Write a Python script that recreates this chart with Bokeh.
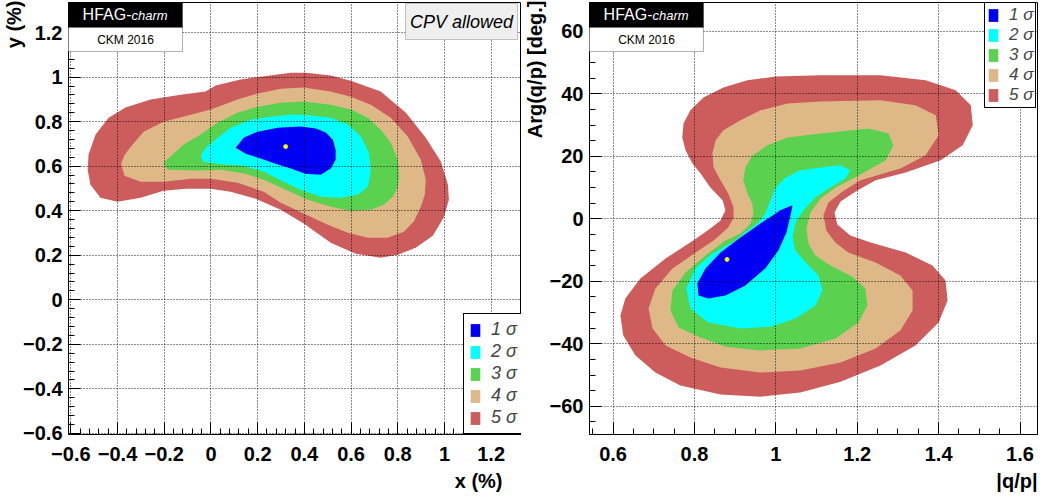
import math
from bokeh.plotting import figure
from bokeh.models import (Range1d, SingleIntervalTicker, CustomJSTickFormatter, Label,
                          BoxAnnotation, Legend, LegendItem, Title)
from bokeh.layouts import row
from bokeh.embed import file_html
from bokeh.resources import INLINE

# ---------------- data ----------------
LEVEL_LABELS = ["1 σ", "2 σ", "3 σ", "4 σ", "5 σ"]
LEVEL_COLORS = ["#0000f5", "#00ffff", "#5ad250", "#deb887", "#cd5c5c"]

# Left panel: x (%) vs y (%) contours (outer boundary of each region)
XY_5S_X = [-0.524, -0.494, -0.438, -0.366, -0.258, -0.130, -0.023, 0.020, 0.127, 0.213, 0.342, 0.406,
           0.513, 0.599, 0.727, 0.835, 0.920, 0.985, 1.015, 1.019, 0.997, 0.950, 0.877, 0.800, 0.727,
           0.620, 0.513, 0.397, 0.299, 0.192, 0.084, -0.001, -0.108, -0.203, -0.301, -0.400, -0.473,
           -0.516, -0.528]
XY_5S_Y = [0.652, 0.742, 0.818, 0.863, 0.899, 0.921, 0.935, 0.962, 0.989, 1.002, 1.020, 1.020,
           1.007, 0.984, 0.935, 0.840, 0.728, 0.620, 0.517, 0.449, 0.369, 0.288, 0.234, 0.202, 0.189,
           0.207, 0.256, 0.342, 0.404, 0.454, 0.485, 0.499, 0.499, 0.490, 0.458, 0.440, 0.458,
           0.517, 0.584]
XY_4S_X = [-0.385, -0.370, -0.340, -0.288, -0.203, -0.087, -0.001, 0.114, 0.200, 0.299, 0.397, 0.513,
           0.599, 0.685, 0.770, 0.843, 0.899, 0.920, 0.916, 0.899, 0.869, 0.826, 0.757, 0.672, 0.586,
           0.500, 0.397, 0.299, 0.226, 0.114, -0.001, -0.087, -0.203, -0.301, -0.370]
XY_4S_Y = [0.610, 0.650, 0.692, 0.755, 0.800, 0.831, 0.854, 0.899, 0.926, 0.948, 0.953, 0.935,
           0.912, 0.876, 0.818, 0.733, 0.629, 0.539, 0.472, 0.418, 0.351, 0.306, 0.279, 0.279, 0.301,
           0.337, 0.387, 0.436, 0.485, 0.526, 0.544, 0.544, 0.530, 0.530, 0.557]
XY_3S_X = [-0.203, -0.173, -0.117, -0.044, 0.029, 0.114, 0.200, 0.299, 0.397, 0.513, 0.599, 0.672,
           0.727, 0.770, 0.800, 0.805, 0.800, 0.779, 0.740, 0.685, 0.599, 0.513, 0.414, 0.320, 0.235,
           0.149, 0.042, -0.066, -0.186]
XY_3S_Y = [0.616, 0.643, 0.697, 0.742, 0.796, 0.840, 0.867, 0.885, 0.890, 0.876, 0.854, 0.818,
           0.764, 0.706, 0.629, 0.553, 0.503, 0.463, 0.427, 0.404, 0.400, 0.418, 0.449, 0.494, 0.535,
           0.566, 0.584, 0.580, 0.584]
XY_2S_X = [-0.044, -0.023, 0.029, 0.084, 0.170, 0.256, 0.342, 0.397, 0.513, 0.586, 0.642, 0.676,
           0.685, 0.672, 0.629, 0.556, 0.470, 0.384, 0.320, 0.226, 0.140, 0.054, -0.031]
XY_2S_Y = [0.643, 0.683, 0.728, 0.773, 0.809, 0.822, 0.831, 0.831, 0.818, 0.787, 0.733, 0.661,
           0.584, 0.508, 0.472, 0.458, 0.463, 0.494, 0.526, 0.575, 0.602, 0.607, 0.620]
XY_1S_X = [0.106, 0.140, 0.200, 0.286, 0.384, 0.449, 0.492, 0.522, 0.534, 0.534, 0.513, 0.470,
           0.405, 0.342, 0.277, 0.213, 0.149]
XY_1S_Y = [0.683, 0.728, 0.755, 0.773, 0.778, 0.769, 0.751, 0.719, 0.674, 0.629, 0.589, 0.562,
           0.566, 0.589, 0.611, 0.634, 0.656]
XY_BEST_X = [0.32]
XY_BEST_Y = [0.688]

# Right panel: |q/p| vs Arg(q/p) [deg.]
QP_5S_X = [1.257, 1.110, 0.999, 0.930, 0.871, 0.822, 0.790, 0.773, 0.770, 0.778, 0.795, 0.815,
           0.839, 0.869, 0.876, 0.864, 0.839, 0.797, 0.729, 0.667, 0.630, 0.618, 0.625, 0.655,
           0.704, 0.765, 0.864, 0.962, 1.060, 1.159, 1.257, 1.343, 1.400, 1.422, 1.417, 1.385,
           1.319, 1.233, 1.183, 1.151, 1.144, 1.159, 1.196, 1.245, 1.319, 1.405, 1.459, 1.484,
           1.479, 1.442, 1.368]
QP_5S_Y = [45.9, 45.9, 45.5, 44.3, 42.0, 38.8, 34.7, 30.5, 26.0, 21.9, 17.7, 14.5,
           10.0, 5.9, 2.7, -0.5, -3.1, -6.9, -12.7, -19.1, -25.5, -30.9, -37.3, -43.7,
           -49.2, -53.3, -56.2, -56.9, -55.6, -52.1, -46.9, -40.5, -33.2, -26.1, -19.7, -14.9,
           -10.8, -7.6, -5.3, -1.8, 2.0, 5.5, 8.7, 12.3, 14.8, 18.7, 23.5, 29.9,
           36.3, 41.1, 44.3]
QP_4S_X = [1.257, 1.110, 1.029, 0.962, 0.913, 0.871, 0.852, 0.844, 0.847, 0.864, 0.883, 0.896,
           0.896, 0.883, 0.847, 0.803, 0.746, 0.704, 0.687, 0.697, 0.729, 0.790, 0.864, 0.962,
           1.060, 1.159, 1.245, 1.306, 1.336, 1.336, 1.306, 1.245, 1.178, 1.146, 1.124, 1.117,
           1.129, 1.164, 1.208, 1.306, 1.368, 1.400, 1.393, 1.343]
QP_4S_Y = [37.9, 37.5, 36.9, 34.7, 31.5, 28.3, 25.1, 20.9, 16.4, 12.3, 8.1, 3.6,
           0.4, -2.8, -6.9, -10.8, -15.9, -22.3, -28.7, -35.1, -40.5, -44.4, -47.6, -49.2,
           -48.5, -46.0, -41.5, -35.7, -29.3, -22.9, -18.1, -14.0, -10.8, -7.6, -3.7, 1.1,
           5.2, 8.7, 12.3, 16.1, 20.3, 26.7, 33.1, 36.3]
QP_3S_X = [1.228, 1.110, 1.029, 0.979, 0.942, 0.925, 0.920, 0.930, 0.942, 0.945, 0.938, 0.913,
           0.876, 0.827, 0.778, 0.746, 0.741, 0.761, 0.815, 0.876, 0.962, 1.060, 1.147, 1.203,
           1.225, 1.220, 1.188, 1.134, 1.097, 1.080, 1.075, 1.085, 1.110, 1.147, 1.208, 1.270,
           1.289, 1.277]
QP_3S_Y = [28.9, 27.3, 26.0, 23.5, 20.2, 16.4, 12.3, 8.1, 4.9, 1.7, -1.5, -4.7,
           -6.9, -11.7, -17.2, -22.9, -29.3, -34.8, -38.0, -40.9, -42.1, -41.5, -38.3, -33.2,
           -27.7, -22.3, -18.5, -14.9, -11.7, -7.9, -3.1, 2.0, 6.5, 10.0, 14.2, 18.7,
           23.5, 27.3]
QP_2S_X = [1.159, 1.110, 1.060, 1.024, 0.999, 0.987, 0.974, 0.955, 0.920, 0.901, 0.844, 0.802,
           0.780, 0.790, 0.834, 0.913, 0.987, 1.048, 1.097, 1.115, 1.105, 1.073, 1.048, 1.041,
           1.048, 1.068, 1.097, 1.134, 1.171, 1.183]
QP_2S_Y = [17.1, 16.4, 15.5, 13.2, 10.0, 5.9, 1.7, -1.5, -4.7, -6.9, -11.1, -15.9,
           -22.3, -28.7, -33.2, -35.1, -34.5, -31.9, -27.7, -22.9, -18.1, -14.0, -10.1, -6.0,
           -1.2, 2.7, 6.8, 10.0, 12.9, 15.5]
QP_1S_X = [1.041, 1.011, 0.962, 0.913, 0.864, 0.827, 0.807, 0.810, 0.834, 0.876, 0.925, 0.974,
           1.006, 1.026, 1.036]
QP_1S_Y = [4.3, 2.7, -1.5, -6.0, -10.8, -15.9, -20.7, -24.5, -25.5, -24.5, -21.3, -15.9,
           -10.1, -4.4, 1.1]
QP_BEST_X = [0.88]
QP_BEST_Y = [-13.0]

# ---------------- styling ----------------
FONT = "Liberation Sans"
FMT = CustomJSTickFormatter(code="""
const v = Math.round(tick * 100) / 100;
const s = Math.abs(v) < 1e-9 ? '0' : String(v);
return s.replace('-', '\u2212');
""")


def axis_title(text, align, offset, standoff, vertical_align="middle"):
    return Title(text=text, align=align, offset=offset, standoff=standoff,
                 vertical_align=vertical_align, text_font=FONT, text_font_size="20px",
                 text_font_style="bold", text_color="black")


def make_fig(xr, yr, fw, fh, bl, br, xint, xminor, yint, yminor):
    p = figure(frame_width=fw, frame_height=fh, x_range=Range1d(*xr), y_range=Range1d(*yr),
               output_backend="svg", toolbar_location=None,
               min_border_left=bl, min_border_right=br, min_border_top=2, min_border_bottom=64)
    p.background_fill_color = "white"
    p.border_fill_color = "white"
    p.outline_line_color = "black"
    p.outline_line_width = 1
    p.outline_line_alpha = 1
    for ax, interval, nminor in ((p.xaxis[0], xint, xminor), (p.yaxis[0], yint, yminor)):
        ax.ticker = SingleIntervalTicker(interval=interval, num_minor_ticks=nminor)
        ax.formatter = FMT
        ax.major_tick_in = 12
        ax.major_tick_out = 0
        ax.minor_tick_in = 6
        ax.minor_tick_out = 0
        ax.major_tick_line_color = "black"
        ax.minor_tick_line_color = "black"
        ax.axis_line_color = "black"
        ax.major_label_text_font = FONT
        ax.major_label_text_font_size = "20px"
        ax.major_label_text_font_style = "bold"
        ax.major_label_text_color = "black"
    p.xaxis.major_label_standoff = 12
    p.yaxis.major_label_standoff = 6
    p.grid.grid_line_color = "black"
    p.grid.grid_line_dash = "1 2"
    p.grid.grid_line_alpha = 0.9
    p.grid.level = "guide"
    return p


def px_x(p, fw, px):
    return p.x_range.start + px * (p.x_range.end - p.x_range.start) / fw


def px_y(p, fh, py):
    return p.y_range.end - py * (p.y_range.end - p.y_range.start) / fh


def add_contours(p, xs, ys, best_x, best_y):
    rends = []
    for cx, cy, col in reversed(list(zip(xs, ys, LEVEL_COLORS))):
        r = p.patch(cx, cy, fill_color=col, fill_alpha=1, line_color=None)
        rends.append(r)
    rends = rends[::-1]
    p.scatter(best_x, best_y, size=4, fill_color="yellow", line_color="#e8e800")
    return rends


def add_legend(p, rends, loc, spacing, padding, font_size):
    items = [LegendItem(label=lab, renderers=[r]) for lab, r in zip(LEVEL_LABELS, rends)]
    lg = Legend(items=items, location=loc)
    lg.glyph_width = 12
    lg.glyph_height = 16
    lg.label_height = 16
    lg.label_standoff = 10
    lg.label_text_font = FONT
    lg.label_text_font_size = font_size
    lg.label_text_font_style = "italic"
    lg.spacing = spacing
    lg.padding = padding
    lg.margin = 0
    lg.border_line_color = "black"
    lg.border_line_width = 1
    lg.border_line_alpha = 1
    lg.background_fill_color = "white"
    lg.background_fill_alpha = 1
    p.add_layout(lg)


def add_hfag(p, fw, fh):
    X = lambda v: px_x(p, fw, v)
    Y = lambda v: px_y(p, fh, v)
    p.add_layout(BoxAnnotation(left=X(-1), right=X(114), top=Y(0), bottom=Y(25),
                               fill_color="black", fill_alpha=1, line_color="black", line_width=1))
    p.add_layout(BoxAnnotation(left=X(-1), right=X(114), top=Y(25), bottom=Y(49),
                               fill_color="white", fill_alpha=1, line_color="black", line_width=1))
    p.add_layout(Label(x=X(63), y=Y(12), text="HFAG-", text_align="right", text_baseline="middle",
                       text_color="white", text_font=FONT, text_font_size="16px"))
    p.add_layout(Label(x=X(63), y=Y(13), text="charm", text_align="left", text_baseline="middle",
                       text_color="white", text_font=FONT, text_font_size="13px",
                       text_font_style="italic"))
    p.add_layout(Label(x=X(57), y=Y(37), text="CKM 2016", text_align="center",
                       text_baseline="middle", text_color="black", text_font=FONT,
                       text_font_size="12px"))


FH = 432

# ---------------- left panel ----------------
FW1 = 453
p1 = make_fig((-0.61, 1.33), (-0.605, 1.335), FW1, FH, 68, 0, 0.2, 5, 0.2, 5)
r1 = add_contours(p1, [XY_1S_X, XY_2S_X, XY_3S_X, XY_4S_X, XY_5S_X],
                  [XY_1S_Y, XY_2S_Y, XY_3S_Y, XY_4S_Y, XY_5S_Y], XY_BEST_X, XY_BEST_Y)
add_hfag(p1, FW1, FH)
X1 = lambda v: px_x(p1, FW1, v)
Y1 = lambda v: px_y(p1, FH, v)
p1.add_layout(BoxAnnotation(left=X1(337), right=X1(449), top=Y1(1), bottom=Y1(37),
                            fill_color="#efefef", fill_alpha=1, line_color="#404040", line_width=1))
p1.add_layout(Label(x=X1(393), y=Y1(19), text="CPV allowed", text_align="center",
                    text_baseline="middle", text_font=FONT, text_font_size="18px",
                    text_font_style="italic", text_color="black"))
add_legend(p1, r1, (395, 0), 1, 5, "18px")
p1.add_layout(axis_title("x (%)", "right", 19, 10), "below")
p1.add_layout(axis_title("y (%)", "right", -2, -10), "left")

# ---------------- right panel ----------------
FW2 = 448
p2 = make_fig((0.542, 1.643), (-69.0, 69.2), FW2, FH, 68, 10, 0.2, 4, 20, 4)
r2 = add_contours(p2, [QP_1S_X, QP_2S_X, QP_3S_X, QP_4S_X, QP_5S_X],
                  [QP_1S_Y, QP_2S_Y, QP_3S_Y, QP_4S_Y, QP_5S_Y], QP_BEST_X, QP_BEST_Y)
add_hfag(p2, FW2, FH)
add_legend(p2, r2, (395, FH - 106), 0, 2, "17px")
p2.add_layout(axis_title("|q/p|", "right", 0, 10), "below")
p2.add_layout(axis_title("Arg(q/p) [deg.]", "right", -2, 0), "left")

layout = row(p1, p2)
open("out.html", "w").write(file_html(layout, INLINE))
